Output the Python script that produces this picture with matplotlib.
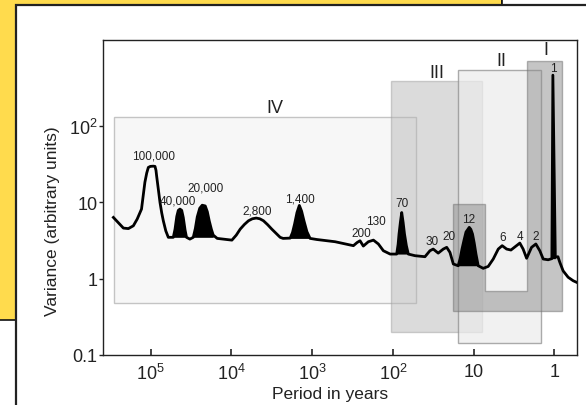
import matplotlib
matplotlib.use('Agg')
import matplotlib.pyplot as plt
from matplotlib.patches import Rectangle, Polygon
import numpy as np

plt.rcParams['font.family'] = ['Liberation Sans', 'DejaVu Sans']
plt.rcParams['mathtext.fontset'] = 'custom'
plt.rcParams['mathtext.rm'] = 'Liberation Sans'
plt.rcParams['mathtext.it'] = 'Liberation Sans'

# spectrum (period in years, variance in arbitrary units)
period = [290000, 218000, 189000, 164000, 147000, 130000, 124000, 118000, 112000,
          107000, 101000, 93000, 88500, 86000, 84500, 80000, 76700, 73000, 69800,
          65000, 60500, 52500, 50000, 47500, 45500, 43400, 41300, 39500, 37500,
          36000, 32700, 29700, 28000, 26500, 24700, 23000, 21100, 19900, 18800,
          17700, 16800, 15000, 9860, 8700, 7780, 6900, 6140, 5500, 4930, 4450,
          4010, 3550, 3160, 2800, 2490, 2290, 1870, 1750, 1650, 1540, 1440, 1350,
          1260, 1160, 1060, 875, 519, 308, 277, 255, 232, 201, 174, 151, 131, 108,
          89.6, 86, 83.8, 80.5, 77.6, 74.5, 71.7, 68, 64.3, 53.1, 40.0, 34.7, 31.6,
          27.4, 23.7, 21.5, 19.6, 17.8, 15.5, 14.6, 13.9, 13.1, 12.4, 11.3, 10.8,
          10.3, 9.8, 9.33, 8.75, 7.59, 6.58, 5.70, 4.94, 4.42, 3.89, 3.44, 2.93,
          2.67, 2.43, 2.20, 1.91, 1.69, 1.51, 1.37, 1.19, 1.07, 1.04, 0.97, 0.90,
          0.853, 0.776, 0.673, 0.583, 0.525]
variance = [6.3, 4.57, 4.5, 4.9, 6.0, 8.1, 12, 18.2, 24,
            28.4, 29.3, 29.5, 29.3, 26, 22.1, 14, 9.9, 7.2, 5.7,
            4.2, 3.46, 3.46, 4.4, 6.5, 7.8, 8.1, 7.8, 6.3, 4.3,
            3.46, 3.28, 3.46, 4.5, 6.4, 8.3, 9.1, 8.9, 7.5, 5.65,
            4.4, 3.7, 3.35, 3.18, 3.7, 4.43, 5.1, 5.7, 6.05, 6.18, 6.05,
            5.7, 5.05, 4.43, 3.9, 3.46, 3.35, 3.38, 4.0, 5.15, 7.3, 9.05, 7.6,
            5.65, 4.1, 3.35, 3.24, 3.03, 2.69, 2.96, 3.12, 2.66, 3.03, 3.18, 2.83, 2.31, 2.09,
            2.09, 2.8, 3.82, 5.5, 7.3, 5.4, 3.82, 2.7, 2.09, 1.99, 1.93, 2.31, 2.43,
            2.15, 2.43, 2.56, 2.20, 1.55, 1.47, 1.85, 2.43, 3.2, 4.06, 4.67, 4.4,
            3.82, 2.9, 2.09, 1.47, 1.36, 1.44, 1.80, 2.43, 2.69, 2.43, 2.36, 2.69,
            2.91, 2.43, 1.84, 2.56, 2.83, 2.31, 1.80, 1.76, 1.82, 457, 1.9, 1.93,
            1.63, 1.26, 1.04, 0.936, 0.89]

# filled peaks: (longest period, shortest period, base level)
filled_peaks = [(52500, 36000, 3.46), (29700, 16800, 3.46), (1870, 1060, 3.35),
                (89.6, 64.3, 2.09), (15.5, 8.75, 1.47), (1.07, 0.97, 1.82)]

peak_labels = ['100,000', '40,000', '20,000', '2,800', '1,400', '200', '130', '70',
               '30', '20', '12', '6', '4', '2', '1']
peak_label_x = [92900, 45500, 21000, 4750, 1410, 249, 163, 76.2,
                32.4, 20.1, 11.4, 4.36, 2.67, 1.69, 1.03]
peak_label_y = [41.1, 10.6, 15.6, 7.7, 11.2, 3.94, 5.7, 9.7,
                3.12, 3.56, 6.0, 3.52, 3.62, 3.56, 560]

# frequency bands (left, right, bottom, top)
box_iv = [2.84e5, 51.6, 0.474, 130]
box_iii = [106, 7.87, 0.198, 378]
box_ii = [15.8, 1.48, 0.142, 531]
u_x = [18.0, 18.0, 7.2, 7.2, 2.19, 2.19, 0.80, 0.80]
u_y = [0.38, 9.3, 9.3, 0.68, 0.68, 690, 690, 0.38]
band_names = ['IV', 'III', 'II', 'I']
band_x = [2870, 28.6, 4.49, 1.27]
band_y = [175, 496, 718, 980]

xticks = [1e5, 1e4, 1e3, 1e2, 10, 1]
xticklabels = ['10$^5$', '10$^4$', '10$^3$', '10$^2$', '10', '1']
yticks = [0.1, 1, 10, 100]
yticklabels = ['0.1', '1', '10', '10$^2$']

W, H = 586, 406
fig = plt.figure(figsize=(W / 100, H / 100), dpi=100)


def fr(x, y):
    return x / W, 1 - y / H


# page decoration behind the chart
fig.patches.append(Rectangle(fr(-10, 321), 512 / W, 340 / H, transform=fig.transFigure,
                             facecolor='#FFDB4D', edgecolor='#111111', lw=1.2, zorder=-3))
fig.patches.append(Rectangle(fr(502, 6), 100 / W, 20 / H, transform=fig.transFigure,
                             facecolor='white', edgecolor='#111111', lw=1.2, zorder=-2))
fig.patches.append(Rectangle(fr(16, 420), 600 / W, 414 / H, transform=fig.transFigure,
                             facecolor='white', edgecolor='#222222', lw=1.6, zorder=-1))

ax = fig.add_axes([103 / W, 1 - 356 / H, 473.5 / W, 315.3 / H])
ax.patch.set_alpha(0)
ax.set_xscale('log')
ax.set_yscale('log')
ax.set_xlim(3.9e5, 0.53)
ax.set_ylim(0.1, 1330)


def rect(b):
    return [(b[0], b[2]), (b[0], b[3]), (b[1], b[3]), (b[1], b[2])]


ax.add_patch(Polygon(rect(box_iv), closed=True, facecolor='#f7f7f7', edgecolor='#c4c4c4', lw=1, zorder=1))
ax.add_patch(Polygon(rect(box_iii), closed=True, facecolor='#b8b8b8', alpha=0.5, edgecolor='#a0a0a0', lw=1, zorder=2))
ax.add_patch(Polygon(rect(box_ii), closed=True, facecolor='#ececec', alpha=0.7, edgecolor='#8a8a8a', lw=1, zorder=3))
ax.add_patch(Polygon(list(zip(u_x, u_y)), closed=True, facecolor='#8c8c8c', alpha=0.5, edgecolor='#6e6e6e', lw=1, zorder=4))

p = np.array(period)
v = np.array(variance)
for hi, lo, base in filled_peaks:
    m = (p <= hi) & (p >= lo)
    ax.fill_between(p[m], v[m], base, color='black', lw=0, zorder=5)
ax.plot(p, v, color='black', lw=2.0, zorder=6, solid_joinstyle='round')

for t, x, y in zip(peak_labels, peak_label_x, peak_label_y):
    ax.text(x, y, t, ha='center', va='center', fontsize=8.5, color='#222222', zorder=7)
for t, x, y in zip(band_names, band_x, band_y):
    ax.text(x, y, t, ha='center', va='center', fontsize=13, color='#222222', zorder=7)

ax.set_xticks(xticks)
ax.set_xticklabels(xticklabels)
ax.set_yticks(yticks)
ax.set_yticklabels(yticklabels)
ax.minorticks_off()
ax.tick_params(axis='x', direction='in', length=4, width=1.2, labelsize=13, pad=6, colors='#222222')
ax.tick_params(axis='y', direction='out', length=3, width=1, labelsize=13, pad=1, colors='#222222')
for s in ax.spines.values():
    s.set_linewidth(1.0)
    s.set_color('#222222')

ax.set_xlabel('Period in years', fontsize=12.5, color='#222222')
ax.set_ylabel('Variance (arbitrary units)', fontsize=12.5, color='#222222')
ax.xaxis.set_label_coords(0.479, -0.097)
ax.yaxis.set_label_coords(-0.09, 0.428)

fig.savefig('out.png', dpi=100)
